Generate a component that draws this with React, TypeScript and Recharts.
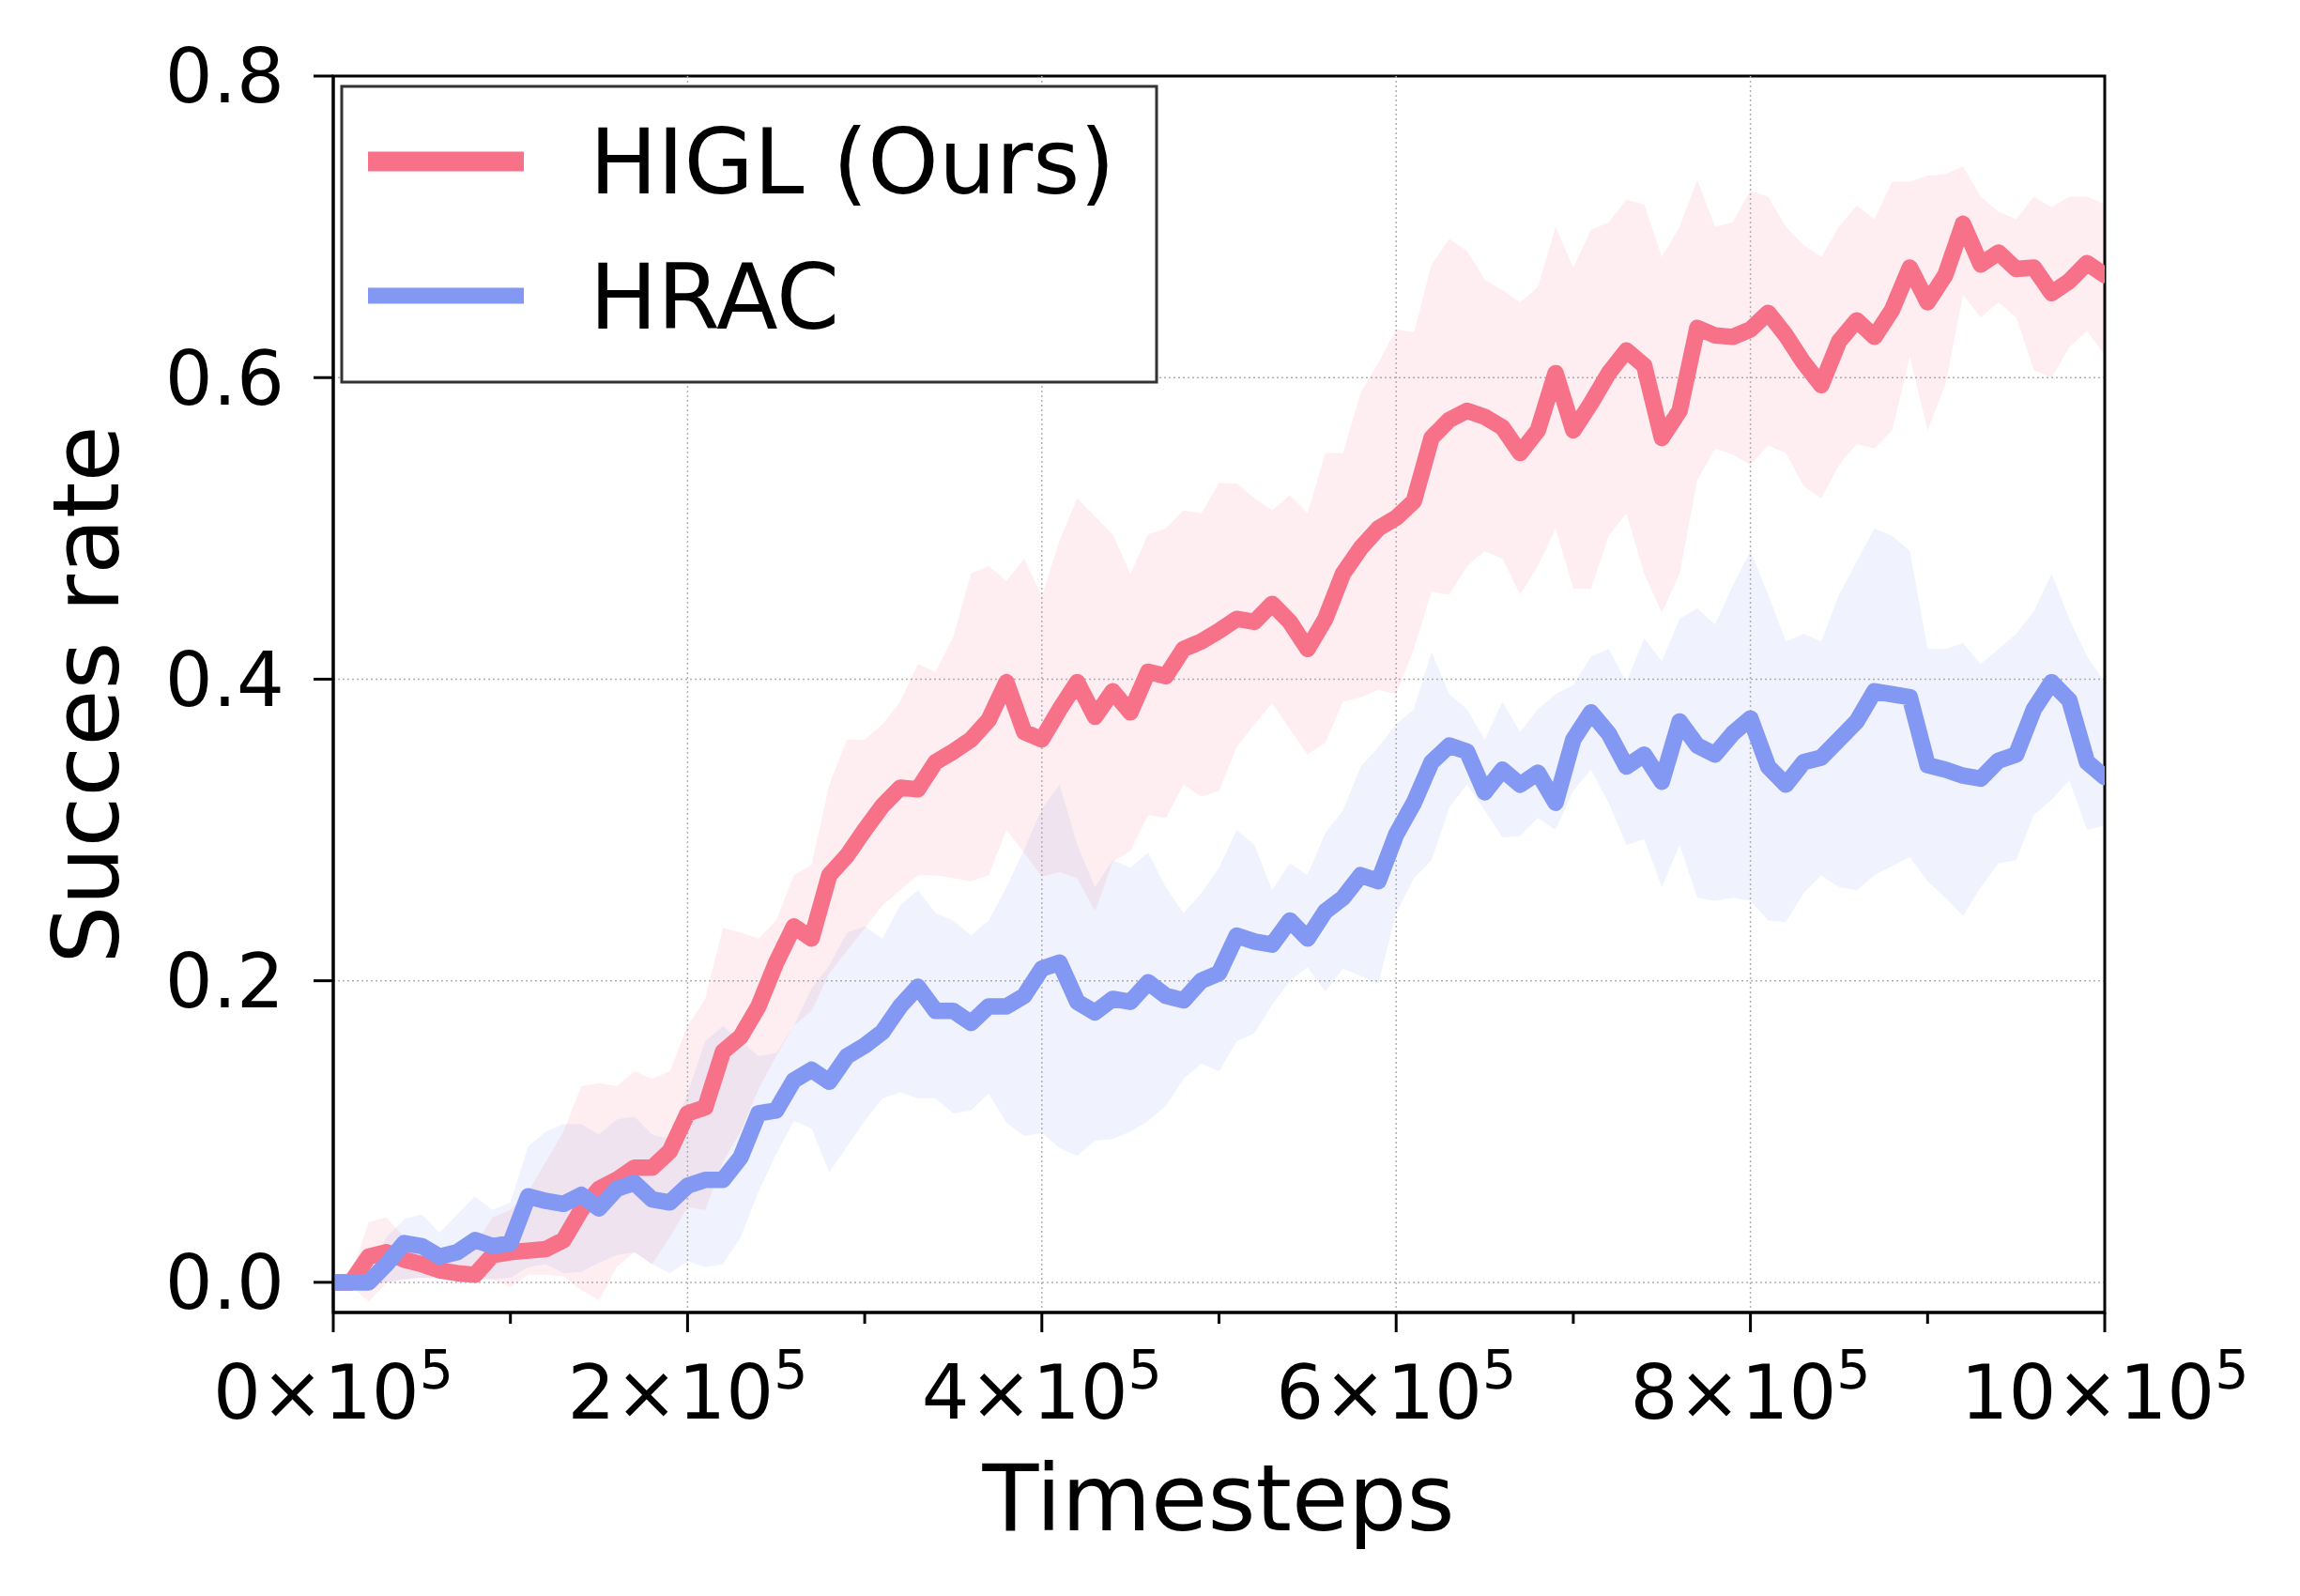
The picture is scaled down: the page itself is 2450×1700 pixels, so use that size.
import React from "react";
import {
  ComposedChart,
  Line,
  Area,
  XAxis,
  YAxis,
  CartesianGrid,
  ReferenceLine,
  ReferenceArea,
} from "recharts";

// timesteps in thousands
const STEPS_K = [
  0, 10, 20, 30, 40, 50, 60, 70, 80, 90,
  100, 110, 120, 130, 140, 150, 160, 170, 180, 190,
  200, 210, 220, 230, 240, 250, 260, 270, 280, 290,
  300, 310, 320, 330, 340, 350, 360, 370, 380, 390,
  400, 410, 420, 430, 440, 450, 460, 470, 480, 490,
  500, 510, 520, 530, 540, 550, 560, 570, 580, 590,
  600, 610, 620, 630, 640, 650, 660, 670, 680, 690,
  700, 710, 720, 730, 740, 750, 760, 770, 780, 790,
  800, 810, 820, 830, 840, 850, 860, 870, 880, 890,
  900, 910, 920, 930, 940, 950, 960, 970, 980, 990,
  1000,
];

const HIGL_MEAN = [
  0, 0, 0.017, 0.02, 0.015, 0.012, 0.008, 0.006, 0.005, 0.018,
  0.02, 0.021, 0.022, 0.028, 0.048, 0.062, 0.068, 0.076, 0.076, 0.087,
  0.112, 0.116, 0.153, 0.163, 0.183, 0.212, 0.236, 0.228, 0.27, 0.283,
  0.3, 0.316, 0.328, 0.327, 0.345, 0.352, 0.36, 0.373, 0.398, 0.365,
  0.36, 0.38, 0.398, 0.375, 0.392, 0.378, 0.405, 0.402, 0.42, 0.425,
  0.432, 0.44, 0.438, 0.45, 0.438, 0.42, 0.44, 0.47, 0.487, 0.5,
  0.507, 0.518, 0.56, 0.572, 0.578, 0.574, 0.567, 0.55, 0.565, 0.603,
  0.565, 0.583, 0.603, 0.618, 0.608, 0.56, 0.578, 0.633, 0.628, 0.627,
  0.632, 0.643, 0.628, 0.61, 0.595, 0.624, 0.638, 0.627, 0.645, 0.673,
  0.65, 0.668, 0.702, 0.675, 0.683, 0.672, 0.673, 0.656, 0.664, 0.676,
  0.668,
];

const HIGL_HI = [
  0.005, 0.005, 0.04, 0.043, 0.03, 0.025, 0.022, 0.02, 0.025, 0.043,
  0.048, 0.06, 0.08, 0.1, 0.13, 0.132, 0.13, 0.14, 0.135, 0.14,
  0.17, 0.188, 0.235, 0.232, 0.228, 0.24, 0.27, 0.277, 0.33, 0.36,
  0.36, 0.37, 0.385, 0.41, 0.405, 0.428, 0.47, 0.475, 0.465, 0.48,
  0.455, 0.492, 0.52, 0.508, 0.496, 0.47, 0.496, 0.5, 0.512, 0.51,
  0.53, 0.53, 0.52, 0.512, 0.522, 0.51, 0.55, 0.55, 0.59, 0.61,
  0.632, 0.63, 0.675, 0.692, 0.684, 0.665, 0.658, 0.65, 0.66, 0.7,
  0.673, 0.698, 0.703, 0.718, 0.715, 0.68, 0.7, 0.731, 0.7, 0.703,
  0.724, 0.72, 0.7, 0.688, 0.68, 0.7, 0.714, 0.705, 0.73, 0.73,
  0.734, 0.735, 0.74, 0.72, 0.71, 0.705, 0.72, 0.713, 0.72, 0.72,
  0.715,
];

const HIGL_LO = [
  0, -0.002, -0.013, 0, 0.002, 0.003, 0.003, 0.003, 0.003, 0.002,
  -0.003, 0.005, 0.005, 0.004, -0.005, -0.012, 0.01, 0.02, 0.012, 0.03,
  0.05, 0.048, 0.08, 0.1, 0.128, 0.15, 0.17, 0.18, 0.205, 0.22,
  0.235, 0.25, 0.26, 0.27, 0.27, 0.268, 0.266, 0.27, 0.3, 0.285,
  0.269, 0.272, 0.268, 0.246, 0.279, 0.286, 0.31, 0.308, 0.33, 0.322,
  0.326, 0.355, 0.37, 0.384, 0.367, 0.35, 0.358, 0.385, 0.388, 0.393,
  0.39, 0.42, 0.458, 0.456, 0.475, 0.485, 0.48, 0.456, 0.475, 0.5,
  0.46, 0.46, 0.495, 0.51, 0.47, 0.444, 0.47, 0.532, 0.553, 0.549,
  0.542, 0.555, 0.55, 0.528, 0.52, 0.542, 0.556, 0.553, 0.565, 0.614,
  0.565, 0.595, 0.655, 0.64, 0.65, 0.64, 0.605, 0.6, 0.62, 0.631,
  0.615,
];

const HRAC_MEAN = [
  0, 0, 0, 0.012, 0.026, 0.024, 0.017, 0.02, 0.028, 0.024,
  0.026, 0.057, 0.054, 0.052, 0.058, 0.049, 0.062, 0.066, 0.055, 0.053,
  0.064, 0.068, 0.068, 0.083, 0.112, 0.114, 0.134, 0.141, 0.133, 0.15,
  0.157, 0.166, 0.183, 0.196, 0.18, 0.18, 0.172, 0.183, 0.183, 0.19,
  0.208, 0.212, 0.186, 0.179, 0.188, 0.186, 0.199, 0.19, 0.187, 0.2,
  0.205, 0.23, 0.226, 0.224, 0.24, 0.228, 0.246, 0.255, 0.27, 0.266,
  0.297, 0.318, 0.345, 0.356, 0.352, 0.325, 0.34, 0.33, 0.338, 0.318,
  0.36, 0.378, 0.364, 0.342, 0.35, 0.332, 0.372, 0.356, 0.35, 0.364,
  0.374, 0.342, 0.33, 0.345, 0.348, 0.36, 0.372, 0.392, 0.39, 0.388,
  0.343, 0.34, 0.336, 0.334, 0.346, 0.35, 0.38, 0.398, 0.386, 0.345,
  0.335,
];

const HRAC_HI = [
  0.003, 0.003, 0.005, 0.03, 0.042, 0.045, 0.033, 0.045, 0.057, 0.048,
  0.053, 0.09, 0.1, 0.105, 0.105, 0.098, 0.108, 0.11, 0.098, 0.095,
  0.125, 0.16, 0.17, 0.16, 0.15, 0.152, 0.17, 0.195, 0.21, 0.232,
  0.236, 0.228, 0.25, 0.26, 0.245, 0.24, 0.23, 0.24, 0.262, 0.287,
  0.314, 0.33, 0.29, 0.262, 0.28, 0.275, 0.285, 0.262, 0.245, 0.258,
  0.275, 0.3, 0.29, 0.26, 0.278, 0.27, 0.298, 0.313, 0.342, 0.355,
  0.37, 0.38, 0.418, 0.39, 0.38, 0.36, 0.385, 0.365, 0.38, 0.39,
  0.396, 0.415, 0.42, 0.398, 0.427, 0.412, 0.44, 0.447, 0.436, 0.462,
  0.485, 0.456, 0.425, 0.43, 0.425, 0.456, 0.478, 0.5, 0.495, 0.485,
  0.42, 0.42, 0.424, 0.41, 0.42, 0.43, 0.445, 0.47, 0.44, 0.415,
  0.398,
];

const HRAC_LO = [
  0, 0, 0, 0, 0.002, 0.003, 0.002, 0.003, 0.002, 0.002,
  0.003, 0.01, 0.012, 0.006, 0.007, 0.013, 0.018, 0.02, 0.012, 0.006,
  0.014, 0.01, 0.012, 0.03, 0.06, 0.085, 0.107, 0.102, 0.073, 0.09,
  0.107, 0.122, 0.126, 0.122, 0.122, 0.112, 0.114, 0.125, 0.106, 0.097,
  0.099, 0.089, 0.084, 0.094, 0.095, 0.1, 0.107, 0.117, 0.135, 0.145,
  0.14, 0.16, 0.165, 0.184, 0.2, 0.209, 0.193, 0.208, 0.203, 0.198,
  0.245, 0.268, 0.28, 0.315, 0.33, 0.313, 0.295, 0.296, 0.308, 0.3,
  0.326, 0.34, 0.318, 0.29, 0.294, 0.262, 0.29, 0.255, 0.253, 0.255,
  0.253, 0.24, 0.239, 0.258, 0.27, 0.262, 0.26, 0.27, 0.276, 0.282,
  0.266, 0.255, 0.243, 0.262, 0.278, 0.28, 0.31, 0.32, 0.333, 0.3,
  0.303,
];

const X_TICKS = [0, 1e5, 2e5, 3e5, 4e5, 5e5, 6e5, 7e5, 8e5, 9e5, 1e6];
const X_GRID = [2e5, 4e5, 6e5, 8e5];
const Y_TICKS = [0, 0.2, 0.4, 0.6, 0.8];

const RED = "#f77189";
const BLUE = "#8298f2";
const FONT = "DejaVu Sans";

const rows = STEPS_K.map((k, i) => ({
  t: k * 1000,
  higl: HIGL_MEAN[i],
  higlBand: [HIGL_LO[i], HIGL_HI[i]],
  hrac: HRAC_MEAN[i],
  hracBand: [HRAC_LO[i], HRAC_HI[i]],
}));

function XTick(props: any) {
  const { x, y, payload } = props;
  const v = payload.value;
  const n = Math.round(v / 1e5);
  const major = n % 2 === 0;
  return (
    <g>
      <line x1={x} x2={x} y1={y} y2={y + (major ? 21 : 12)} stroke="#000" strokeWidth={3} />
      {major && (
        <text x={x} y={y + 113} textAnchor="middle" fontSize={80} fontFamily={FONT} fill="#000">
          {n}×10
          <tspan dy={-32} fontSize={57}>5</tspan>
        </text>
      )}
    </g>
  );
}

function Overlay() {
  return (
    <svg
      width={2450}
      height={1700}
      style={{ position: "absolute", left: 0, top: 0, pointerEvents: "none" }}
    >
      <text x={1298} y={1630} textAnchor="middle" fontSize={98} fontFamily={FONT} fill="#000">
        Timesteps
      </text>
      <text
        x={126}
        y={740}
        textAnchor="middle"
        fontSize={98}
        fontFamily={FONT}
        fill="#000"
        transform="rotate(-90 126 740)"
      >
        Succes rate
      </text>
      <rect x={364} y={92} width={868} height={315} fill="#fff" stroke="#333" strokeWidth={3} />
      <line x1={392} x2={558} y1={172} y2={172} stroke={RED} strokeWidth={21} />
      <text x={628} y={206} fontSize={96} fontFamily={FONT} fill="#000">
        HIGL (Ours)
      </text>
      <line x1={392} x2={558} y1={315} y2={315} stroke={BLUE} strokeWidth={17} />
      <text x={628} y={350} fontSize={96} fontFamily={FONT} fill="#000">
        HRAC
      </text>
    </svg>
  );
}

export default function App() {
  return (
    <div style={{ position: "absolute", left: 0, top: 0, width: 2450, height: 1700, background: "#fff" }}>
      <ComposedChart
        width={2450}
        height={1700}
        data={rows}
        margin={{ top: 81, right: 208, left: 0, bottom: 0 }}
      >
        <CartesianGrid vertical={false} stroke="#b0b0b0" strokeWidth={1.5} strokeDasharray="2 3" />
        {X_GRID.map((g) => (
          <ReferenceLine key={g} x={g} stroke="#b0b0b0" strokeWidth={1.5} strokeDasharray="2 3" />
        ))}
        <XAxis
          dataKey="t"
          type="number"
          domain={[0, 1e6]}
          ticks={X_TICKS}
          interval={0}
          height={302}
          tickSize={0}
          tickMargin={0}
          tickLine={false}
          axisLine={{ stroke: "#000", strokeWidth: 3 }}
          tick={<XTick />}
          allowDataOverflow
        />
        <YAxis
          type="number"
          domain={[-0.02, 0.8]}
          ticks={Y_TICKS}
          interval={0}
          width={355}
          tickSize={21}
          tickMargin={31}
          tickLine={{ stroke: "#000", strokeWidth: 3 }}
          axisLine={{ stroke: "#000", strokeWidth: 3 }}
          tickFormatter={(v: number) => v.toFixed(1)}
          tick={{ fontSize: 80, fill: "#000", fontFamily: FONT }}
          allowDataOverflow
        />
        <Area type="linear" dataKey="higlBand" stroke="none" fill={RED} fillOpacity={0.12} isAnimationActive={false} />
        <Area type="linear" dataKey="hracBand" stroke="none" fill={BLUE} fillOpacity={0.12} isAnimationActive={false} />
        <Line
          type="linear"
          dataKey="higl"
          stroke={RED}
          strokeWidth={17.5}
          strokeLinejoin="round"
          strokeLinecap="round"
          dot={false}
          isAnimationActive={false}
        />
        <Line
          type="linear"
          dataKey="hrac"
          stroke={BLUE}
          strokeWidth={17.5}
          strokeLinejoin="round"
          strokeLinecap="round"
          dot={false}
          isAnimationActive={false}
        />
        <ReferenceArea
          x1={0}
          x2={1e6}
          y1={-0.02}
          y2={0.8}
          fill="none"
          fillOpacity={0}
          stroke="#000"
          strokeWidth={3}
          ifOverflow="visible"
        />
      </ComposedChart>
      <Overlay />
    </div>
  );
}
